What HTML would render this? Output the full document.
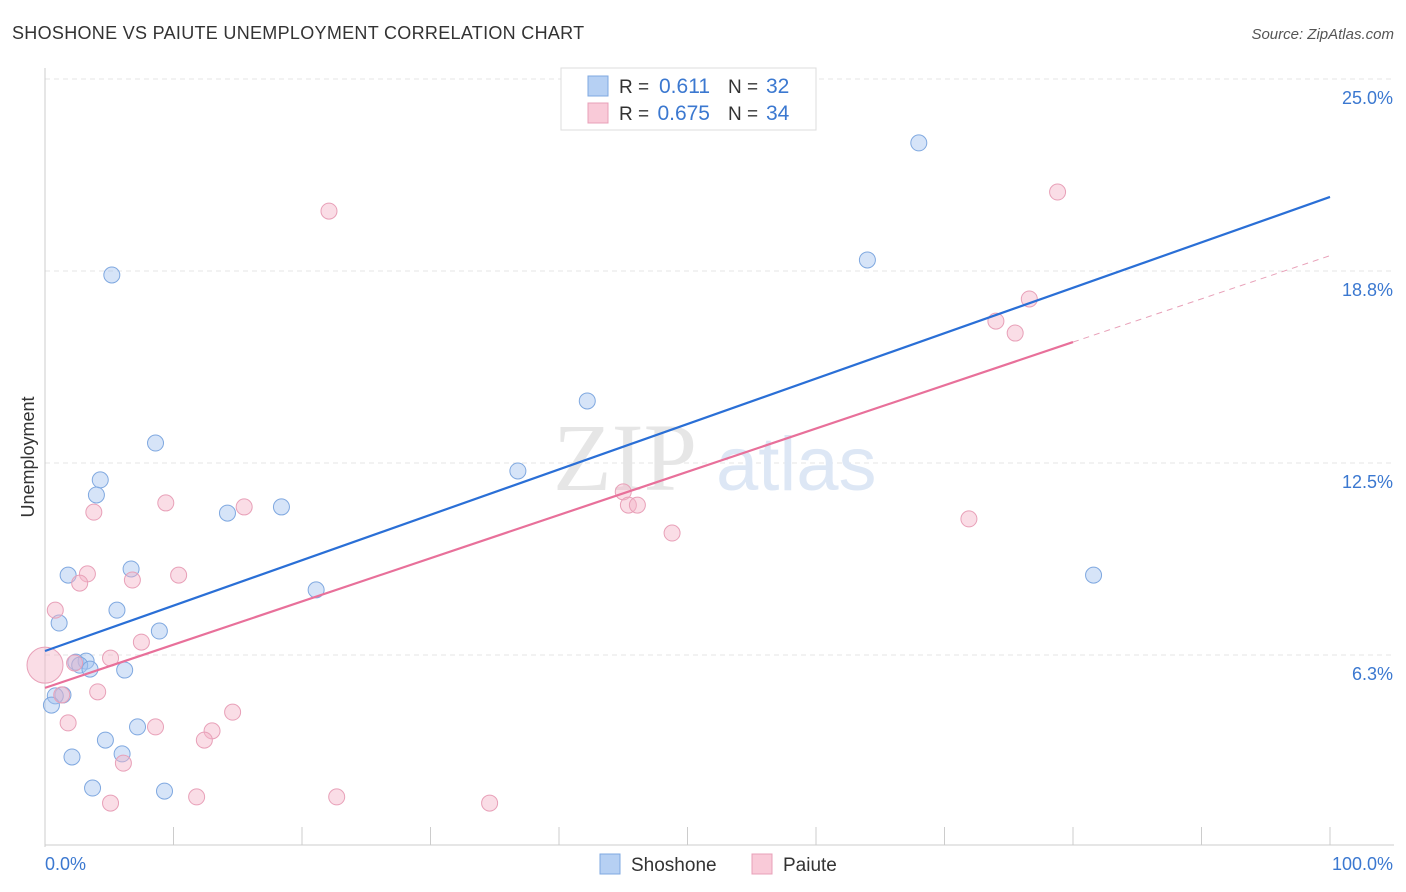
<!DOCTYPE html>
<html><head><meta charset="utf-8"><style>
body{margin:0;background:#fff;font-family:"Liberation Sans",sans-serif}
svg{display:block}
</style></head><body>
<svg id="c" width="1406" height="892"></svg>
<script>
const shoX=[68.0,64.0,5.2,42.2,8.6,36.8,4.3,4.0,18.4,14.2,1.8,6.7,81.6,21.1,5.6,1.1,8.9,2.4,3.2,2.7,3.5,6.2,1.4,0.8,0.5,7.2,4.7,6.0,2.1,3.7,9.3];
const shoY=[22.92,19.11,18.62,14.52,13.15,12.24,11.95,11.46,11.07,10.87,8.85,9.05,8.85,8.37,7.71,7.29,7.03,6.02,6.05,5.92,5.79,5.76,4.95,4.92,4.62,3.91,3.48,3.03,2.93,1.92,1.82];
const paiX=[78.8,22.1,76.6,74.0,75.5,9.4,15.5,3.8,45.0,45.4,46.1,71.9,48.8,3.3,10.4,2.7,6.8,0.8,7.5,5.1,2.3,4.1,1.3,14.6,1.8,8.6,13.0,12.4,6.1,5.1,11.8,22.7,34.6];
const paiY=[21.32,20.70,17.84,17.12,16.73,11.20,11.07,10.90,11.56,11.13,11.13,10.68,10.22,8.89,8.85,8.59,8.69,7.71,6.67,6.15,5.99,5.05,4.95,4.39,4.04,3.91,3.78,3.48,2.73,1.43,1.63,1.63,1.43];
const bigX=[0],bigY=[5.92];
const yTicks=[25,18.75,12.5,6.25];
const yLabels=["25.0%","18.8%","12.5%","6.3%"];
const blueLine=[6.38,21.16];
const pinkLine=[5.18,19.25];
const pinkSolidEnd=80;
const X=v=>45+v*12.85, Y=v=>847-v*30.72;
const s=document.getElementById('c');const NS="http://www.w3.org/2000/svg";
function el(t,a,txt){const e=document.createElementNS(NS,t);for(const k in a)e.setAttribute(k,a[k]);if(txt!=null)e.textContent=txt;s.appendChild(e);return e;}
let e;
e=el('text',{x:12,y:39,'font-size':18,fill:'#333','letter-spacing':'0.3'},'SHOSHONE VS PAIUTE UNEMPLOYMENT CORRELATION CHART');


e=el('text',{x:1394,y:39,'font-size':15,fill:'#555','font-style':'italic','text-anchor':'end'},'Source: ZipAtlas.com');


yTicks.forEach((v,i)=>{
 e=el('line',{x1:45,x2:1394,y1:Y(v),y2:Y(v),stroke:'#e4e4e4','stroke-dasharray':'5,4'});
 
 
 e=el('text',{x:1393,y:Y(v)+25,'font-size':18,fill:'#3b78d0','text-anchor':'end'},yLabels[i]);
 
 
});
e=el('line',{x1:45,x2:45,y1:68,y2:847,stroke:'#ccc'});


e=el('line',{x1:45,x2:1394,y1:845,y2:845,stroke:'#ccc'});


for(let i=0;i<=10;i++){e=el('line',{x1:X(i*10),x2:X(i*10),y1:827,y2:845,stroke:'#ccc'});
 
 }
e=el('text',{x:45,y:870,'font-size':18,fill:'#3b78d0'},'0.0%');


e=el('text',{x:1393,y:870,'font-size':18,fill:'#3b78d0','text-anchor':'end'},'100.0%');


e=el('text',{x:34,y:457,'font-size':18,fill:'#333','text-anchor':'middle',transform:'rotate(-90 34 457)'},'Unemployment');


e=el('text',{x:553,y:490,'font-size':96,fill:'#e6e6e6','font-family':'Liberation Serif'},'ZIP');


e=el('text',{x:716,y:490,'font-size':76,fill:'#dde7f5'},'atlas');


bigX.forEach((v,i)=>{e=el('circle',{cx:X(v),cy:Y(bigY[i]),r:18,fill:'rgba(245,180,200,0.45)',stroke:'#e8a0b8'});
 
 });
shoX.forEach((v,i)=>{e=el('circle',{cx:X(v),cy:Y(shoY[i]),r:8,fill:'rgba(164,196,240,0.45)',stroke:'#7fa8e0'});
 
 });
paiX.forEach((v,i)=>{e=el('circle',{cx:X(v),cy:Y(paiY[i]),r:8,fill:'rgba(245,180,200,0.45)',stroke:'#e8a0b8'});
 
 });
e=el('line',{x1:X(0),y1:Y(blueLine[0]),x2:X(100),y2:Y(blueLine[1]),stroke:'#2a6fd6','stroke-width':2.2});


const pm=pinkLine[0]+(pinkLine[1]-pinkLine[0])*pinkSolidEnd/100;
e=el('line',{x1:X(0),y1:Y(pinkLine[0]),x2:X(pinkSolidEnd),y2:Y(pm),stroke:'#e8709a','stroke-width':2.2});


e=el('line',{x1:X(pinkSolidEnd),y1:Y(pm),x2:X(100),y2:Y(pinkLine[1]),stroke:'#e8a0b8','stroke-width':1,'stroke-dasharray':'6,5'});


e=el('rect',{x:561,y:68,width:255,height:62,fill:'#fff',stroke:'#ddd'});


[[0,'rgba(164,196,240,0.8)','#7fa8e0','0.611','32'],[1,'rgba(248,196,212,0.9)','#e8a0b8','0.675','34']].forEach(r=>{
 const y=86+r[0]*27;
 e=el('rect',{x:588,y:y-10,width:20,height:20,fill:r[1],stroke:r[2]});
 
 
 e=el('text',{x:619,y:y+7,'font-size':19,fill:'#333'},'R =');
 
 
 e=el('text',{x:710,y:y+7,'font-size':21,fill:'#3b78d0','text-anchor':'end'},r[3]);
 
 
 e=el('text',{x:728,y:y+7,'font-size':19,fill:'#333'},'N =');
 
 
 e=el('text',{x:766,y:y+7,'font-size':21,fill:'#3b78d0'},r[4]);
 
 
});
[[600,'rgba(164,196,240,0.8)','#7fa8e0','Shoshone'],[752,'rgba(248,196,212,0.9)','#e8a0b8','Paiute']].forEach(r=>{
 e=el('rect',{x:r[0],y:854,width:20,height:20,fill:r[1],stroke:r[2]});
 
 
 e=el('text',{x:r[0]+31,y:871,'font-size':19,fill:'#333'},r[3]);
 
 
});
</script>
</body></html>
